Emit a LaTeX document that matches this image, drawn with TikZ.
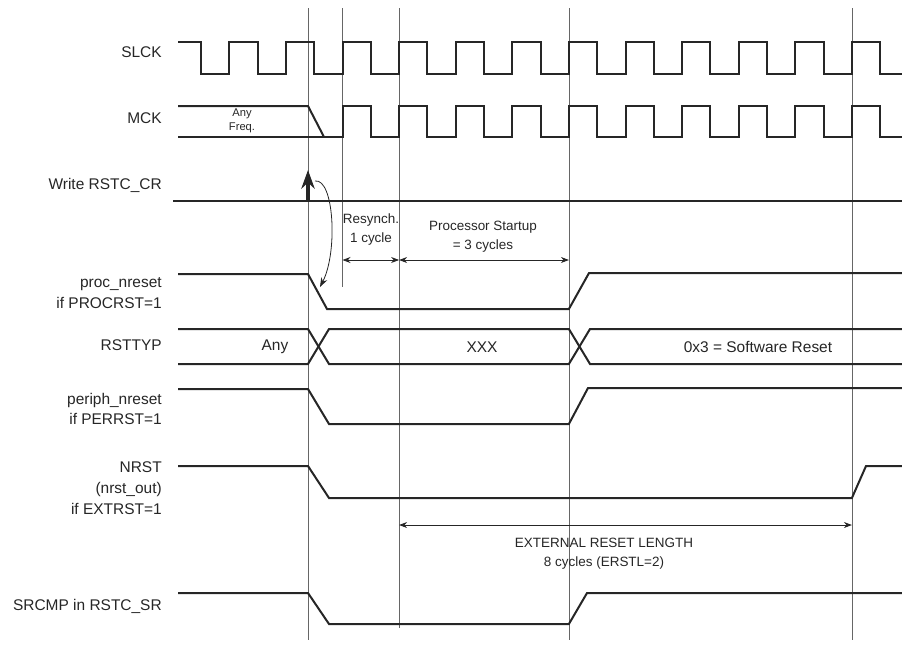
\documentclass[tikz,border=0pt]{standalone}
\usepackage{fontspec}
\setmainfont{Liberation Sans}
\usetikzlibrary{arrows.meta}

\begin{document}
\begin{tikzpicture}[x=0.75pt,y=-0.75pt,
  wave/.style={line width=1.5pt,black!85},
  guide/.style={line width=0.6pt,black!60},
  lbl/.style={anchor=east,align=right,inner sep=0pt,text=black!85,font=\fontsize{11.6}{15.5}\selectfont},
  txt/.style={align=center,inner sep=0pt,text=black!85,font=\fontsize{11.6}{15.5}\selectfont},
  note/.style={align=center,inner sep=0pt,text=black!85,font=\fontsize{10.1}{14}\selectfont},
  tiny/.style={align=center,inner sep=0pt,text=black!85,font=\fontsize{8.4}{10.5}\selectfont},
  dim/.style={{Stealth[length=6pt,width=4.5pt]}-{Stealth[length=6pt,width=4.5pt]},line width=0.6pt,black!85}]

\useasboundingbox (0,0) rectangle (902,657);

% edges of the slow clock
\def\fall#1{201+56.6*#1}
\def\rise#1{229.3+56.6*#1}

% time marks
\coordinate (w)  at (308,8);
\coordinate (r2) at (342.5,8);
\coordinate (r3) at (399.1,8);
\coordinate (r6) at (568.9,8);
\coordinate (r11) at (851.9,8);

\draw[guide] (w) -- (308,640);
\draw[guide] (r2) -- (342.5,287);
\draw[guide] (r3) -- (399.1,628);
\draw[guide] (r6) -- (568.9,640);
\draw[guide] (r11) -- (851.9,640);

% signal names
\node[lbl] (slck)  at (162,52)  {SLCK};
\node[lbl] (mck)   at (162,118) {MCK};
\node[lbl] (wcr)   at (162,185) {Write RSTC\_CR};
\node[lbl] (proc)  at (162,293) {proc\_nreset\\if PROCRST=1};
\node[lbl] (typ)   at (162,345) {RSTTYP};
\node[lbl] (per)   at (162,409) {periph\_nreset\\if PERRST=1};
\node[lbl] (nrst)  at (162,488) {NRST\\(nrst\_out)\\if EXTRST=1};
\node[lbl] (srcmp) at (162,606) {SRCMP in RSTC\_SR};

% SLCK
\draw[wave] (178,42) \foreach \k in {0,...,11} { -| ({\fall{\k}},74) -| ({\rise{\k}},42) }
  -| ({\fall{12}},74) -- (902,74);

% MCK
\draw[wave] (178,106) -- (308,106) -- (324,137);
\draw[wave] (178,137) -| ({\rise{2}},106) \foreach \k in {3,...,11} { -| ({\fall{\k}},137) -| ({\rise{\k}},106) }
  -| ({\fall{12}},137) -- (902,137);
\node[tiny] (anyf) at (242,121) {Any\\Freq.};

% Write RSTC_CR
\draw[wave] (173,201) -- (902,201);
\coordinate (wb) at (308,201);
\coordinate (wt) at (308,170);
\draw[line width=2.4pt,black!85,-{Stealth[length=14pt,width=10pt]}] (wb) -- (wt);

% proc_nreset
\draw[wave] (178,274) -- (308,274) -- (327,309) -- (568.9,309) -- (589,273) -- (902,273);
\coordinate (cs) at (315,181);
\coordinate (ce) at (320,287);
\draw[line width=0.6pt,black!85,-{Stealth[length=7pt,width=5pt]}] (cs) .. controls (334,178) and (338,252) .. (ce);

% resynch and startup
\coordinate (d2) at (342.5,260);
\coordinate (d3) at (399.1,260);
\coordinate (d6) at (568.9,260);
\draw[dim] (d2) -- (d3);
\draw[dim] (d3) -- (d6);
\node[note] (rsy) at (371,229.5) {Resynch.\\1 cycle};
\node[note] (pst) at (483,237) {Processor Startup\\= 3 cycles};

% RSTTYP
\draw[wave] (178,329) -- (308,329) -- (329,364) -- (568.9,364) -- (590,329) -- (902,329);
\draw[wave] (178,364) -- (308,364) -- (329,329) -- (568.9,329) -- (590,364) -- (902,364);
\node[txt] (tany) at (275,347) {Any};
\node[txt] (txxx) at (482,347) {XXX};
\node[txt] (tsw)  at (758,347) {0x3 = Software Reset};

% periph_nreset
\draw[wave] (178,389) -- (308,389) -- (329,424) -- (568.9,424) -- (588,388) -- (902,388);

% NRST
\draw[wave] (178,466) -- (308,466) -- (329,498) -- (851.9,498) -- (866,466) -- (902,466);
\coordinate (e3) at (399.1,525);
\coordinate (e11) at (851.9,525);
\draw[dim] (e3) -- (e11);
\node[note] (ext) at (604,553.5) {EXTERNAL RESET LENGTH\\8 cycles (ERSTL=2)};

% SRCMP
\draw[wave] (178,593) -- (308,593) -- (329,624) -- (568.9,624) -- (587,593) -- (902,593);

\end{tikzpicture}
\end{document}
